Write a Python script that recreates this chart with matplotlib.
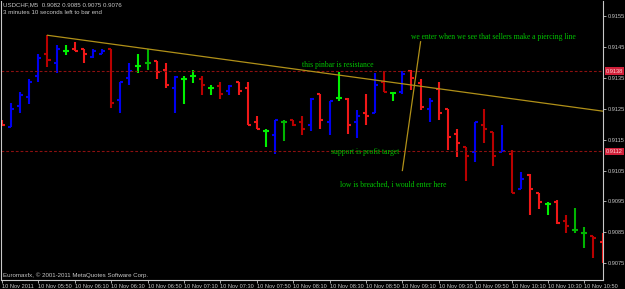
import numpy as np
import matplotlib
matplotlib.use('Agg')
import matplotlib.pyplot as plt
from matplotlib.transforms import blended_transform_factory

# USDCHF M5 bars, 10 Nov 2011, 05:30 .. 11:00
opens = [0.91213, 0.91190, 0.91258, 0.91287, 0.91356, 0.91426, 0.91397, 0.91438, 0.91445, 0.91445,
         0.91417, 0.91428, 0.91445, 0.91278, 0.91348, 0.91388, 0.91397, 0.91405, 0.91374, 0.91316,
         0.91347, 0.91357, 0.91345, 0.91318, 0.91324, 0.91307, 0.91337, 0.91316, 0.91207, 0.91179,
         0.91166, 0.91208, 0.91215, 0.91206, 0.91197, 0.91297, 0.91208, 0.91285, 0.91283, 0.91208,
         0.91237, 0.91237, 0.91337, 0.91300, 0.91305, 0.91373, 0.91334, 0.91248, 0.91313, 0.91248,
         0.91167, 0.91127, 0.91109, 0.91197, 0.91175, 0.91109, 0.91105, 0.90989, 0.91035, 0.90976,
         0.90940, 0.90947, 0.90887, 0.90858, 0.90848, 0.90837, 0.90819]
highs = [0.91215, 0.91270, 0.91305, 0.91345, 0.91426, 0.91488, 0.91456, 0.91456, 0.91467, 0.91445,
         0.91445, 0.91445, 0.91445, 0.91336, 0.91397, 0.91427, 0.91442, 0.91405, 0.91397, 0.91356,
         0.91356, 0.91375, 0.91356, 0.91327, 0.91337, 0.91327, 0.91337, 0.91337, 0.91226, 0.91186,
         0.91215, 0.91215, 0.91215, 0.91226, 0.91285, 0.91297, 0.91276, 0.91368, 0.91285, 0.91246,
         0.91297, 0.91366, 0.91373, 0.91305, 0.91373, 0.91375, 0.91345, 0.91285, 0.91337, 0.91248,
         0.91186, 0.91127, 0.91206, 0.91248, 0.91175, 0.91197, 0.91116, 0.91046, 0.91038, 0.90976,
         0.90947, 0.90956, 0.90905, 0.90927, 0.90868, 0.90837, 0.90846]
lows = [0.91197, 0.91190, 0.91235, 0.91267, 0.91337, 0.91386, 0.91366, 0.91425, 0.91437, 0.91397,
        0.91416, 0.91427, 0.91254, 0.91237, 0.91327, 0.91366, 0.91375, 0.91346, 0.91316, 0.91235,
        0.91265, 0.91335, 0.91294, 0.91294, 0.91283, 0.91296, 0.91294, 0.91196, 0.91185, 0.91125,
        0.91105, 0.91145, 0.91195, 0.91165, 0.91178, 0.91184, 0.91165, 0.91276, 0.91167, 0.91156,
        0.91197, 0.91237, 0.91305, 0.91276, 0.91297, 0.91310, 0.91246, 0.91208, 0.91215, 0.91116,
        0.91094, 0.91017, 0.91078, 0.91138, 0.91066, 0.91109, 0.90976, 0.90989, 0.90905, 0.90926,
        0.90905, 0.90876, 0.90846, 0.90848, 0.90798, 0.90767, 0.90749]
closes = [0.91199, 0.91250, 0.91295, 0.91336, 0.91415, 0.91407, 0.91445, 0.91438, 0.91438, 0.91427,
          0.91436, 0.91438, 0.91268, 0.91336, 0.91373, 0.91388, 0.91397, 0.91368, 0.91327, 0.91353,
          0.91347, 0.91357, 0.91327, 0.91318, 0.91297, 0.91324, 0.91307, 0.91198, 0.91186, 0.91179,
          0.91215, 0.91208, 0.91198, 0.91186, 0.91283, 0.91215, 0.91275, 0.91285, 0.91197, 0.91226,
          0.91227, 0.91327, 0.91305, 0.91300, 0.91364, 0.91348, 0.91256, 0.91275, 0.91237, 0.91157,
          0.91138, 0.91097, 0.91206, 0.91186, 0.91097, 0.91114, 0.90978, 0.91024, 0.90989, 0.90949,
          0.90940, 0.90879, 0.90870, 0.90858, 0.90848, 0.90830, 0.90755]
bar_kind = list("rbbbbRbgrr" "bbRbbgGrrb" "ggRgRbrrrg" "bGRRbrbgrb"
                "rbRgbrrbrr" "rRbRRbRbrr" "grRGGRr")

time_labels = ['10 Nov 2011', '10 Nov 05:50', '10 Nov 06:10', '10 Nov 06:30', '10 Nov 06:50',
               '10 Nov 07:10', '10 Nov 07:30', '10 Nov 07:50', '10 Nov 08:10', '10 Nov 08:30',
               '10 Nov 08:50', '10 Nov 09:10', '10 Nov 09:30', '10 Nov 09:50', '10 Nov 10:10',
               '10 Nov 10:30', '10 Nov 10:50']
time_label_bars = [0, 4, 8, 12, 16, 20, 24, 28, 32, 36, 40, 44, 48, 52, 56, 60, 64]
price_ticks = [0.9075, 0.9085, 0.9095, 0.9105, 0.9115, 0.9125, 0.9135, 0.9145, 0.9155]

levels = [0.91372, 0.91112]
level_labels = ['0.9138', '0.9112']
trend_x = [5, 66.08]
trend_y = [0.91488, 0.91242]
pointer_x = [44.0, 46.0]
pointer_y = [0.91050, 0.91467]

kind_color = {'b': '#0000f0', 'r': '#f01818', 'R': '#b80000', 'g': '#00f000', 'G': '#00b400'}
cols = [kind_color[k] for k in bar_kind]
grey = '#c8c8c8'
txt_green = '#00c400'

fig = plt.figure(figsize=(6.25, 2.89), dpi=100, facecolor='black')
ax = fig.add_axes([1/625, 9.5/289, 602.3/625, 278.5/289])
ax.set_facecolor('black')

x = np.arange(len(opens))
ax.vlines(x, lows, highs, colors=cols, linewidth=1.5)
ax.hlines(opens, x - 0.33, x, colors=cols, linewidth=1.5)
ax.hlines(closes, x, x + 0.33, colors=cols, linewidth=1.5)

for lv in levels:
    ax.axhline(lv, color='#8c1010', lw=0.8, ls=(0, (2.5, 1.8)))
ax.plot(trend_x, trend_y, color='#b09018', lw=0.9)
ax.plot(pointer_x, pointer_y, color='#b09018', lw=0.9)

ax.set_xlim(-0.11, 66.08)
ax.set_ylim(0.90697, 0.91599)

serif = ['Liberation Serif', 'DejaVu Serif']
ax.text(44.95, 0.91483, 'we enter when we see that sellers make a piercing line',
        color=txt_green, fontsize=5.5, family=serif, va='center')
ax.text(33.0, 0.91392, 'this pinbar is resistance', color=txt_green, fontsize=5.5, family=serif, va='center')
ax.text(36.2, 0.91110, 'support is profit target', color=txt_green, fontsize=5.5, family=serif, va='center')
ax.text(37.1, 0.91003, 'low is breached, i would enter here', color=txt_green, fontsize=5.5,
        family=serif, va='center')

small = ['Liberation Sans', 'DejaVu Sans']
fs = 4.1
ax.yaxis.tick_right()
ax.set_yticks(price_ticks)
ax.set_yticklabels(['%.4f' % p for p in price_ticks])
ax.set_xticks(time_label_bars)
ax.set_xticklabels(time_labels, ha='left')
ax.tick_params(colors=grey, labelsize=fs, length=2, width=0.6, pad=1.0)
for lab in ax.get_xticklabels() + ax.get_yticklabels():
    lab.set_family(small)

trans = blended_transform_factory(ax.transAxes, ax.transData)
for lv, s in zip(levels, level_labels):
    ax.text(1.004, lv, s, transform=trans, color='#ffd8d8', fontsize=fs, family=small,
            va='center', ha='left', bbox=dict(facecolor='#d0203a', edgecolor='none', pad=0.8))

for side in ['left', 'right', 'bottom']:
    ax.spines[side].set_color(grey)
    ax.spines[side].set_linewidth(0.8)
ax.spines['top'].set_visible(False)

fig.text(3/625, 1 - 5/289, 'USDCHF,M5  0.9082 0.9085 0.9075 0.9076', color=grey, fontsize=4.4,
         family=small, va='center')
fig.text(3/625, 1 - 13/289, '3 minutes 10 seconds left to bar end', color=grey, fontsize=4.4,
         family=small, va='center')
ax.text(0.003, 0.017, 'Euromaxfx, \u00a9 2001-2011 MetaQuotes Software Corp.', transform=ax.transAxes,
        color=grey, fontsize=4.4, family=small, va='center')

plt.savefig('out.png', dpi=100, facecolor='black')
